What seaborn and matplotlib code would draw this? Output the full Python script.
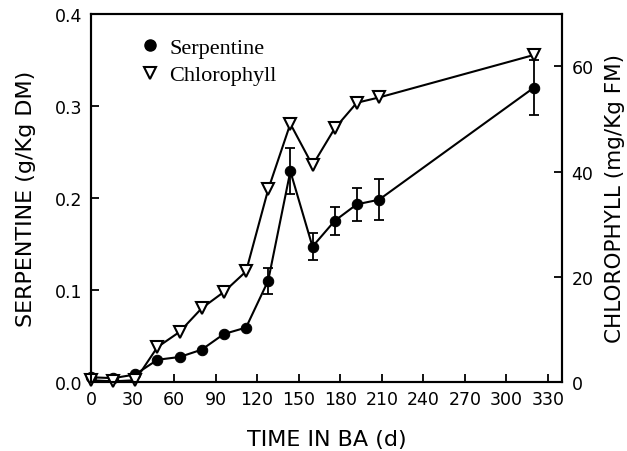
import numpy as np
import pandas as pd
import matplotlib
matplotlib.use('Agg')
import matplotlib.pyplot as plt
import seaborn as sns
from matplotlib.lines import Line2D

sns.set_style('ticks')
plt.rcParams['font.family'] = ['DejaVu Sans']
plt.rcParams['text.color'] = 'black'
plt.rcParams['axes.labelcolor'] = 'black'
plt.rcParams['xtick.color'] = 'black'
plt.rcParams['ytick.color'] = 'black'

# data
days = [0, 16, 32, 48, 64, 80, 96, 112, 128, 144, 160, 176, 192, 208, 320]
serpentine = [0.005, 0.004, 0.008, 0.024, 0.027, 0.035, 0.052, 0.059,
              0.110, 0.229, 0.147, 0.175, 0.193, 0.198, 0.320]
serp_err = [0, 0, 0, 0, 0, 0, 0, 0,
            0.014, 0.025, 0.015, 0.015, 0.018, 0.022, 0.030]
chlorophyll = [0.3, 0.1, 0.3, 6.6, 9.5, 14.0, 17.1, 21.0,
               36.6, 49.1, 41.2, 48.2, 53.1, 54.1, 62.2]

df = pd.DataFrame({'day': days, 'serp': serpentine, 'err': serp_err, 'chl': chlorophyll})

fig = plt.figure(figsize=(6.27, 4.52), dpi=100)
ax = fig.add_axes([0.145, 0.153, 0.751, 0.814])
ax2 = ax.twinx()

# serpentine
sns.lineplot(data=df, x='day', y='serp', ax=ax, color='black', lw=1.5,
             marker='o', markersize=7.5, markeredgecolor='black', clip_on=False)
e = df[df['err'] > 0]
ax.errorbar(e['day'], e['serp'], yerr=e['err'], fmt='none', ecolor='black',
            elinewidth=1.3, capsize=3.5, capthick=1.3)

# chlorophyll
sns.lineplot(data=df, x='day', y='chl', ax=ax2, color='black', lw=1.5,
             marker='v', markersize=8, markerfacecolor='white',
             markeredgecolor='black', markeredgewidth=1.5, clip_on=False)

ax.set_xlim(0, 340)
ax.set_ylim(0, 0.4)
ax2.set_ylim(0, 70)
ax.set_xticks(range(0, 331, 30))
ax.set_yticks([0.0, 0.1, 0.2, 0.3, 0.4])
ax.set_yticklabels(['0.0', '0.1', '0.2', '0.3', '0.4'])
ax2.set_yticks([0, 20, 40, 60])

for a in (ax, ax2):
    for s in a.spines.values():
        s.set_linewidth(1.5)
        s.set_color('black')
ax.tick_params(axis='both', direction='in', length=6, width=1.3, labelsize=12.5, pad=6)
ax2.tick_params(axis='y', direction='in', length=6, width=1.3, labelsize=12.5, pad=7)

ax.set_xlabel('TIME IN BA (d)', fontsize=16, labelpad=15)
ax.set_ylabel('SERPENTINE (g/Kg DM)', fontsize=16, labelpad=14)
ax2.set_ylabel('CHLOROPHYLL (mg/Kg FM)', fontsize=15.5, labelpad=8)

handles = [Line2D([], [], ls='none', marker='o', color='black', markersize=8),
           Line2D([], [], ls='none', marker='v', markerfacecolor='white',
                  markeredgecolor='black', markeredgewidth=1.5, markersize=8)]
ax.legend(handles, ['Serpentine', 'Chlorophyll'], loc='upper left',
          bbox_to_anchor=(0.06, 0.99), frameon=False, handlelength=1,
          handletextpad=0.35, labelspacing=0.3,
          prop={'family': 'Liberation Serif', 'size': 16})

ax.grid(False)
ax2.grid(False)
fig.savefig('out.png', dpi=100)
